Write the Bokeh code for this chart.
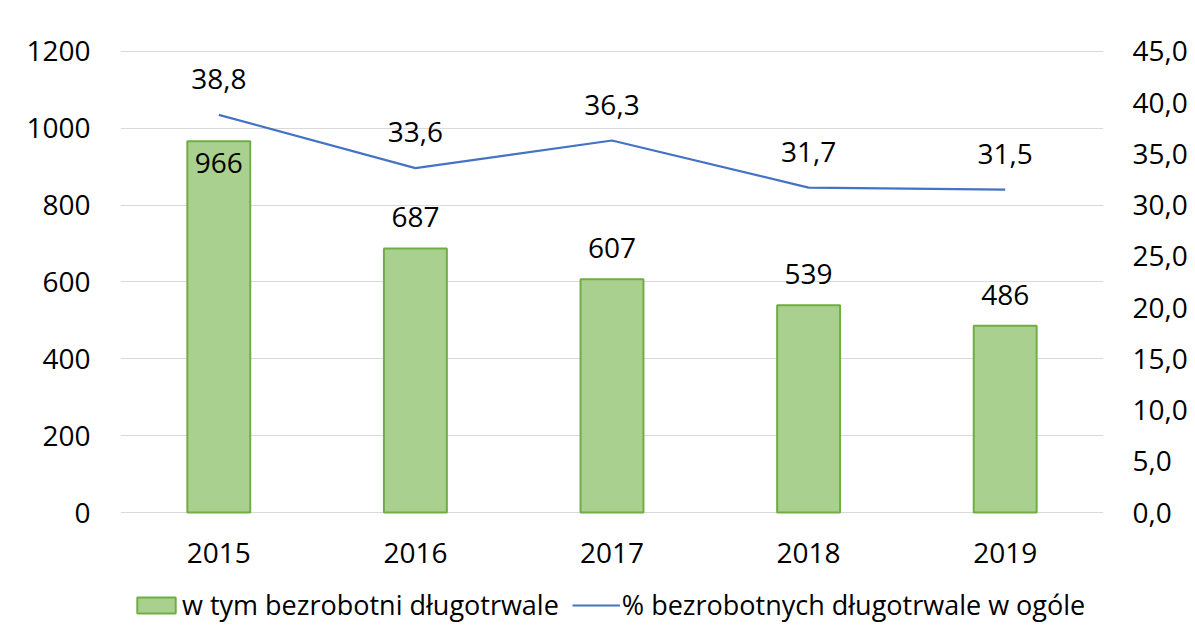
from bokeh.plotting import figure
from bokeh.models import (Range1d, LinearAxis, FixedTicker, CustomJSTickFormatter,
                          Legend, LegendItem, ColumnDataSource)
from bokeh.embed import file_html
from bokeh.resources import INLINE
from bokeh.core.properties import value

years = ["2015", "2016", "2017", "2018", "2019"]
long_term = [966, 687, 607, 539, 486]
pct_long_term = [38.8, 33.6, 36.3, 31.7, 31.5]
bar_labels = ["966", "687", "607", "539", "486"]
pct_labels = ["38,8", "33,6", "36,3", "31,7", "31,5"]
left_ticks = [0, 200, 400, 600, 800, 1000, 1200]
right_ticks = [0, 5, 10, 15, 20, 25, 30, 35, 40, 45]

FONT = "Open Sans"
FS = "28px"
LEG_FS = "27px"

# layout: plot area 465 px for 0..LEFT_MAX, plus 129 px below zero for year labels and legend
LEFT_MAX = 1210
PLOT_PX = 465
BELOW_PX = 129
LEFT_MIN = -BELOW_PX / PLOT_PX * LEFT_MAX
RIGHT_MAX = 45 * LEFT_MAX / 1200
RIGHT_MIN = 45 * LEFT_MIN / 1200

p = figure(x_range=years, y_range=Range1d(LEFT_MIN, LEFT_MAX),
           frame_width=983, frame_height=PLOT_PX + BELOW_PX,
           output_backend="svg", toolbar_location=None,
           min_border_left=120, min_border_right=92, min_border_top=47, min_border_bottom=0)
p.outline_line_color = None
p.background_fill_color = "white"
p.border_fill_color = "white"
p.extra_y_ranges = {"right": Range1d(RIGHT_MIN, RIGHT_MAX)}

p.xgrid.grid_line_color = None
p.ygrid.grid_line_color = "#d9d9d9"
p.ygrid.grid_line_width = 1.2
p.x_range.range_padding = 0

src = ColumnDataSource(dict(x=years, y=long_term, lab=bar_labels, zero=[0] * len(years),
                            off=[22 if v == max(long_term) else -31 for v in long_term]))
bars = p.vbar(x="x", top="y", bottom=0, width=0.32, source=src, fill_color="#a9d08e",
              line_color="#70ad47", line_width=2)
p.text(x="x", y="y", text="lab", source=src, text_align="center", text_baseline="middle",
       y_offset="off", text_font=value(FONT), text_font_size=FS, text_color="#000000")
# category (year) labels under the zero line
p.text(x="x", y="zero", text="x", source=src, text_align="center", text_baseline="middle",
       y_offset=40, text_font=value(FONT), text_font_size=FS, text_color="#000000")

lsrc = ColumnDataSource(dict(x=years, y=pct_long_term, lab=pct_labels))
line = p.line(x="x", y="y", source=lsrc, y_range_name="right", line_color="#4472c4", line_width=2.2)
p.text(x="x", y="y", text="lab", source=lsrc, y_range_name="right", text_align="center",
       text_baseline="middle", y_offset=-36, text_font=value(FONT), text_font_size=FS,
       text_color="#000000")

p.xaxis.visible = False
p.yaxis.ticker = FixedTicker(ticks=left_ticks)
ya = p.yaxis[0]
ya.axis_line_color = None
ya.major_tick_line_color = None
ya.minor_tick_line_color = None
ya.major_tick_out = 0
ya.major_label_text_font = FONT
ya.major_label_text_font_size = FS
ya.major_label_text_color = "#000000"
ya.major_label_standoff = 30

ra = LinearAxis(y_range_name="right", ticker=FixedTicker(ticks=right_ticks),
                formatter=CustomJSTickFormatter(code="return tick.toFixed(1).replace('.', ',');"))
ra.axis_line_color = None
ra.major_tick_line_color = None
ra.minor_tick_line_color = None
ra.major_tick_out = 0
ra.major_label_text_font = FONT
ra.major_label_text_font_size = FS
ra.major_label_text_color = "#000000"
ra.major_label_standoff = 29
p.add_layout(ra, "right")

legend = Legend(items=[LegendItem(label="w tym bezrobotni długotrwale", renderers=[bars]),
                       LegendItem(label="% bezrobotnych długotrwale w ogóle", renderers=[line])],
                orientation="horizontal", location=(12, 18))
legend.label_text_font = FONT
legend.label_text_font_size = LEG_FS
legend.label_text_color = "#000000"
legend.glyph_width = 48
legend.glyph_height = 20
legend.label_height = 20
legend.label_standoff = 2
legend.spacing = 13
legend.border_line_color = None
legend.background_fill_alpha = 0
legend.margin = 0
legend.padding = 0
p.add_layout(legend, "center")

open("out.html", "w").write(file_html(p, INLINE))
